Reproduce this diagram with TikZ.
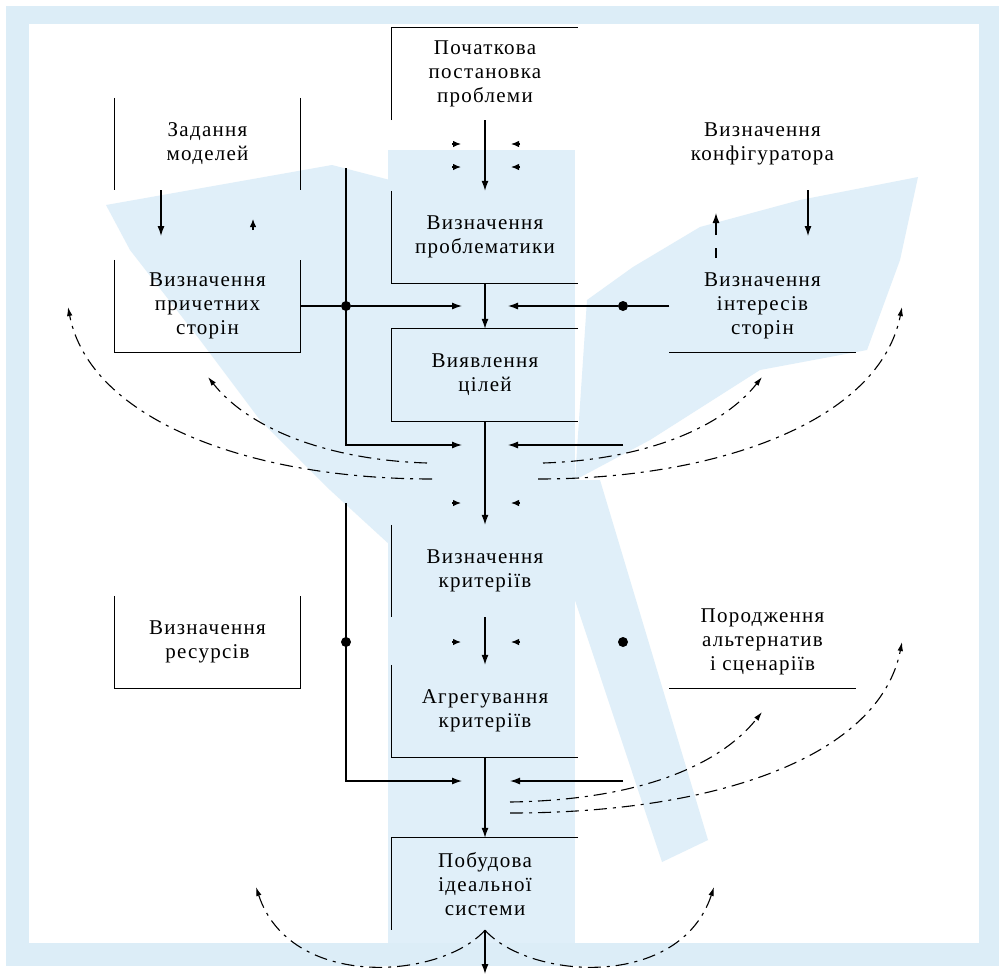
\documentclass[tikz,border=0pt]{standalone}
\usepackage{fontspec}
\setmainfont[LetterSpace=6]{Liberation Serif}
\usetikzlibrary{arrows.meta}
\definecolor{wm}{RGB}{224,239,249}
\definecolor{framec}{RGB}{220,237,247}
\begin{document}
\begin{tikzpicture}[x=1pt,y=-1pt,
  box/.style={minimum width=186pt,minimum height=92pt,inner sep=0pt,align=center,
              font=\fontsize{21}{24}\selectfont},
  ln/.style={line width=1.2pt},
  arr/.style={ln,-{Latex[length=10pt,width=7pt]}},
  sarr/.style={ln,-{Latex[length=8pt,width=6.5pt]}},
  dsh/.style={line width=1.1pt,dash pattern=on 13pt off 6pt on 3pt off 6pt,
              -{Latex[length=9pt,width=5.5pt]}},
  dotn/.style={circle,fill,inner sep=0pt,minimum size=10pt}]
\useasboundingbox (0,0) rectangle (1003,978);
% frame
\fill[framec] (6,6) rectangle (999,966);
\fill[white] (29,24) rectangle (979,943);
% watermark (simplified)
\fill[wm] (106,205) -- (332,165) -- (390,180) -- (390,545) -- (330,490) -- (260,420) -- (200,340) -- (130,250) -- cycle;
\fill[wm] (918,177) -- (800,200) -- (700,227) -- (633,267) -- (587,300) -- (575,480) -- (650,440) -- (760,370) -- (867,350) -- (900,260) -- cycle;
\fill[wm] (388,150) rectangle (575,943);
\fill[wm] (535,480) -- (600,480) -- (708,840) -- (662,862) -- cycle;

% nodes
\node[box] (b1) at (485,74)  {Початкова\\постановка\\проблеми};
\node[box] (b2) at (485,237) {Визначення\\проблематики};
\node[box] (b3) at (485,375) {Виявлення\\цілей};
\node[box] (b4) at (485,571) {Визначення\\критеріїв};
\node[box] (b5) at (485,711) {Агрегування\\критеріїв};
\node[box] (b6) at (485,884) {Побудова\\ідеальної\\системи};
\node[box] (l1) at (207.5,144) {Задання\\моделей};
\node[box] (l2) at (207.5,306) {Визначення\\причетних\\сторін};
\node[box] (l3) at (207.5,642) {Визначення\\ресурсів};
\node[box] (r1) at (762.5,144) {Визначення\\конфігуратора};
\node[box] (r2) at (762.5,306) {Визначення\\інтересів\\сторін};
\node[box] (r3) at (762.5,642) {Породження\\альтернатив\\і сценаріїв};

% visible box edges
\draw[ln] (b1.south west) -- (b1.north west) -- (b1.north east);
\draw[ln] (b2.north west) -- (b2.south west) -- (b2.south east);
\draw[ln] (b3.north east) -- (b3.north west) -- (b3.south west) -- (b3.south east);
\draw[ln] (b4.north west) -- (b4.south west);
\draw[ln] (b5.north west) -- (b5.south west) -- (b5.south east);
\draw[ln] (b6.north east) -- (b6.north west) -- (b6.south west);
\draw[ln] (l1.north west) -- (l1.south west);
\draw[ln] (l1.north east) -- (l1.south east);
\draw[ln] (l2.north west) -- (l2.south west) -- (l2.south east) -- (l2.north east);
\draw[ln] (l3.north west) -- (l3.south west) -- (l3.south east) -- (l3.north east);
\draw[ln] (r2.south west) -- (r2.south east);
\draw[ln] (r3.south west) -- (r3.south east);

% main flow
\draw[arr] (b1.south) -- (b2.north);
\draw[arr] (b2.south) -- (b3.north);
\draw[arr] (b3.south) -- (b4.north);
\draw[arr] (b4.south) -- (b5.north);
\draw[arr] (b5.south) -- (b6.north);
\coordinate (bend) at (485,974);
\draw[arr] (b6.south) -- (bend);

% side arrows
\coordinate (l1a) at (161,236);
\draw[arr] (161,190) -- (l1a);
\draw[sarr] (253,230) -- (253,219);
\coordinate (r1a) at (808,236);
\draw[arr] (808,190) -- (r1a);
\draw[ln] (716,258) -- (716,248);
\draw[arr] (716,235) -- (716,213);

% buses
\node[dotn] (d1) at (346,306) {};
\node[dotn] (d2) at (623,306) {};
\node[dotn] (d3) at (346,642) {};
\node[dotn] (d4) at (623,642) {};
\coordinate (t1) at (462,306);
\coordinate (t2) at (508,306);
\coordinate (t3) at (462,445);
\coordinate (t4) at (508,445);
\coordinate (t5) at (462,781);
\coordinate (t6) at (510,781);
\coordinate (bus1) at (346,168);
\coordinate (bus2) at (346,503);
\coordinate (rs1) at (623,445);
\coordinate (rs2) at (623,781);
\draw[arr] (l2.east) -- (d1) -- (t1);
\draw[arr] (r2.west) -- (d2) -- (t2);
\draw[arr] (bus1) |- (t3);
\draw[arr] (rs1) -- (t4);
\draw[arr] (bus2) |- (t5);
\draw[arr] (rs2) -- (t6);

% small arrowhead fragments
\foreach \yy in {144,167,503,642}{
  \draw[sarr] (452,\yy) -- (461,\yy);
  \draw[sarr] (520,\yy) -- (511,\yy);
}

% dashed feedback curves
\draw[dsh] (432,479) .. controls (250,479) and (90,420) .. (68,307);
\draw[dsh] (427,463) .. controls (330,460) and (250,430) .. (208,377);
\draw[dsh] (538,479) .. controls (720,479) and (880,420) .. (902,307);
\draw[dsh] (543,463) .. controls (640,460) and (720,430) .. (762,377);
\draw[dsh] (510,813) .. controls (720,813) and (880,755) .. (902,642);
\draw[dsh] (510,802) .. controls (640,800) and (720,765) .. (762,712);
\draw[dsh] (b6.south) .. controls (440,980) and (290,990) .. (256,887);
\draw[dsh] (b6.south) .. controls (530,980) and (680,990) .. (714,887);
\end{tikzpicture}
\end{document}
